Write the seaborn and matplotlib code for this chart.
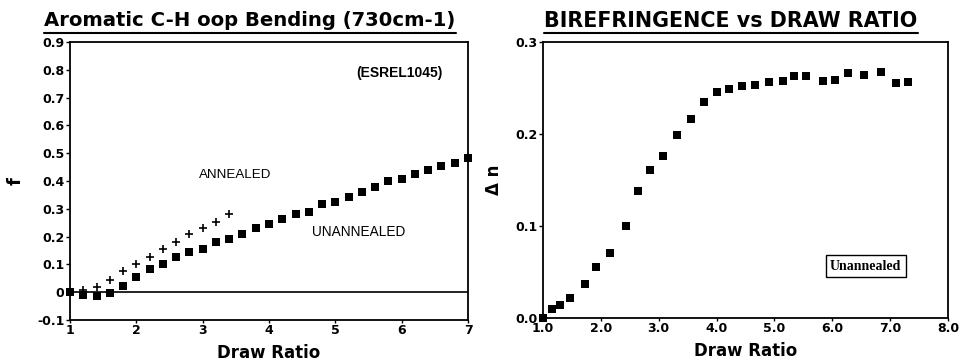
import numpy as np
import pandas as pd
import seaborn as sns
from matplotlib import pyplot as plt
from matplotlib.lines import Line2D

# левый график: f против степени вытяжки
draw_ratio_un = [1.0, 1.2, 1.4, 1.6, 1.8, 2.0, 2.2, 2.4, 2.6, 2.8, 3.0, 3.2, 3.4, 3.6, 3.8, 4.0,
                 4.2, 4.4, 4.6, 4.8, 5.0, 5.2, 5.4, 5.6, 5.8, 6.0, 6.2, 6.4, 6.6, 6.8, 7.0]
f_unannealed = [0.0, -0.01, -0.015, -0.003, 0.023, 0.054, 0.083, 0.10, 0.125, 0.145, 0.156,
                0.179, 0.193, 0.21, 0.23, 0.245, 0.264, 0.283, 0.29, 0.318, 0.326, 0.344,
                0.359, 0.378, 0.400, 0.409, 0.424, 0.441, 0.453, 0.465, 0.484]
draw_ratio_an = [1.0, 1.2, 1.4, 1.6, 1.8, 2.0, 2.2, 2.4, 2.6, 2.8, 3.0, 3.2, 3.4]
f_annealed = [0.0, 0.008, 0.018, 0.045, 0.077, 0.102, 0.128, 0.156, 0.182, 0.209, 0.230,
              0.252, 0.281]

# правый график: двулучепреломление
draw_ratio_bi = [1.0, 1.15, 1.29, 1.47, 1.73, 1.92, 2.15, 2.43, 2.65, 2.85, 3.07, 3.31, 3.56,
                 3.79, 4.01, 4.22, 4.44, 4.66, 4.91, 5.14, 5.34, 5.55, 5.84, 6.04, 6.28, 6.55,
                 6.84, 7.10, 7.31]
birefringence = [0.0, 0.0097, 0.0137, 0.022, 0.037, 0.055, 0.071, 0.100, 0.138, 0.161, 0.176,
                 0.199, 0.216, 0.235, 0.246, 0.249, 0.252, 0.253, 0.257, 0.258, 0.2626, 0.2626,
                 0.258, 0.259, 0.266, 0.264, 0.267, 0.255, 0.2565]

left_yticks = [-0.1, 0, 0.1, 0.2, 0.3, 0.4, 0.5, 0.6, 0.7, 0.8, 0.9]
left_yticklabels = ['-0.1', '0', '0.1', '0.2', '0.3', '0.4', '0.5', '0.6', '0.7', '0.8', '0.9']
left_xticks = [1, 2, 3, 4, 5, 6, 7]
right_yticks = [0.0, 0.1, 0.2, 0.3]
right_xticks = [1, 2, 3, 4, 5, 6, 7, 8]

sns.set_style('ticks')
plt.rcParams['font.family'] = ['DejaVu Sans']
plt.rcParams['text.color'] = 'black'
plt.rcParams['axes.labelcolor'] = 'black'
plt.rcParams['xtick.color'] = 'black'
plt.rcParams['ytick.color'] = 'black'
ann_font = ['Liberation Sans', 'DejaVu Sans']

fig = plt.figure(figsize=(9.6, 3.61), dpi=100)
ax1 = fig.add_axes([0.0729, 0.1136, 0.4146, 0.770])
ax2 = fig.add_axes([0.5656, 0.119, 0.4219, 0.7645])

df_un = pd.DataFrame({'x': draw_ratio_un, 'y': f_unannealed})
df_an = pd.DataFrame({'x': draw_ratio_an, 'y': f_annealed})
df_bi = pd.DataFrame({'x': draw_ratio_bi, 'y': birefringence})

sns.scatterplot(data=df_un, x='x', y='y', marker='s', s=28, color='black',
                edgecolor='black', linewidth=0, ax=ax1, clip_on=False, zorder=3)
sns.scatterplot(data=df_an, x='x', y='y', marker='+', s=32, color='black',
                linewidth=1.2, ax=ax1, clip_on=False, zorder=3)
ax1.axhline(0, color='black', linewidth=1.2)

ax1.set_xlim(1, 7)
ax1.set_ylim(-0.1, 0.9)
ax1.set_xticks(left_xticks)
ax1.set_xticklabels([str(t) for t in left_xticks])
ax1.set_yticks(left_yticks)
ax1.set_yticklabels(left_yticklabels)
ax1.set_xlabel('Draw Ratio', fontsize=12, fontweight='bold', labelpad=5)
ax1.set_ylabel('f', fontsize=13, fontweight='bold', labelpad=9)

ax1.text(5.96, 0.79, '(ESREL1045)', fontsize=10, fontweight='bold', family=ann_font,
         ha='center', va='center')
ax1.text(3.49, 0.42, 'ANNEALED', fontsize=9.6, family=ann_font, ha='center', va='center')
ax1.text(5.35, 0.215, 'UNANNEALED', fontsize=9.8, family=ann_font, ha='center', va='center')

sns.scatterplot(data=df_bi, x='x', y='y', marker='s', s=28, color='black',
                edgecolor='black', linewidth=0, ax=ax2, clip_on=False, zorder=3)
ax2.set_xlim(1, 8)
ax2.set_ylim(0, 0.3)
ax2.set_xticks(right_xticks)
ax2.set_xticklabels([f'{t:.1f}' for t in right_xticks])
ax2.set_yticks(right_yticks)
ax2.set_yticklabels([f'{t:.1f}' for t in right_yticks])
ax2.set_xlabel('Draw Ratio', fontsize=12, fontweight='bold', labelpad=5)
ax2.set_ylabel('Δ n', fontsize=12, fontweight='bold', labelpad=9)

ax2.text(6.58, 0.0565, 'Unannealed', fontsize=10, fontweight='bold',
         family=['Liberation Serif', 'DejaVu Serif'], ha='center', va='center',
         bbox=dict(boxstyle='square,pad=0.3', fc='white', ec='black', lw=1))

for ax in (ax1, ax2):
    for sp in ax.spines.values():
        sp.set_visible(True)
        sp.set_linewidth(1.3)
        sp.set_color('black')
    ax.tick_params(axis='y', direction='out', length=3, width=1, labelsize=9, pad=1)
    ax.tick_params(axis='x', direction='out', length=2, width=1, labelsize=9, pad=1)
    for lab in ax.get_xticklabels() + ax.get_yticklabels():
        lab.set_fontweight('bold')

# заголовки с подчёркиванием
titles = [('Aromatic C-H oop Bending (730cm-1)', 250 / 960, 14.1),
          ('BIREFRINGENCE vs DRAW RATIO', 731 / 960, 14.9)]
fig.canvas.draw()
renderer = fig.canvas.get_renderer()
for text, xc, fs in titles:
    t = fig.text(xc, 1 - 21 / 361, text, fontsize=fs, fontweight='bold',
                 ha='center', va='center')
    bb = t.get_window_extent(renderer).transformed(fig.transFigure.inverted())
    yl = bb.y0 - 0.006
    fig.add_artist(Line2D([bb.x0, bb.x1], [yl, yl], transform=fig.transFigure,
                          color='black', linewidth=1.5))

fig.savefig('out.png', dpi=100)
